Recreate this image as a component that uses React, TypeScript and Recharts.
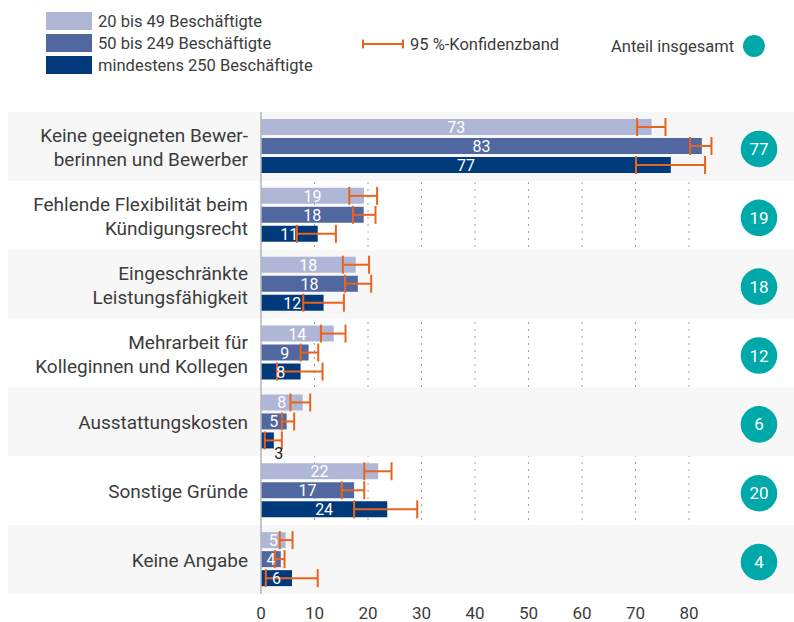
import React from "react";
import { Bar, CartesianGrid, ComposedChart, ErrorBar, LabelList, ReferenceArea, XAxis, YAxis } from "recharts";

const categories = [
  "Keine geeigneten Bewer-\nberinnen und Bewerber",
  "Fehlende Flexibilität beim\nKündigungsrecht",
  "Eingeschränkte\nLeistungsfähigkeit",
  "Mehrarbeit für\nKolleginnen und Kollegen",
  "Ausstattungskosten",
  "Sonstige Gründe",
  "Keine Angabe",
];

const seriesNames = ["20 bis 49 Beschäftigte", "50 bis 249 Beschäftigte", "mindestens 250 Beschäftigte"];

const small = [73.0, 19.25, 17.7, 13.6, 7.8, 21.9, 4.6];
const medium = [82.4, 19.2, 18.1, 8.9, 4.8, 17.4, 3.7];
const large = [76.6, 10.6, 11.7, 7.4, 2.4, 23.6, 5.8];
const smallLabels = [73, 19, 18, 14, 8, 22, 5];
const mediumLabels = [83, 18, 18, 9, 5, 17, 4];
const largeLabels = [77, 11, 12, 8, 3, 24, 6];

// 95 % confidence band, lower and upper ends
const smallLow = [70.3, 16.5, 15.3, 11.2, 5.5, 19.3, 3.5];
const smallHigh = [75.6, 21.7, 20.2, 15.8, 9.2, 24.4, 5.9];
const mediumLow = [80.2, 17.2, 15.7, 7.4, 3.9, 15.1, 2.6];
const mediumHigh = [84.2, 21.4, 20.6, 10.7, 6.2, 19.3, 4.4];
const largeLow = [70.1, 6.7, 7.9, 3.0, 0.7, 17.4, 0.9];
const largeHigh = [83.0, 14.0, 15.5, 11.5, 3.9, 29.2, 10.6];

const totals = [77, 19, 18, 12, 6, 20, 4];

const xTicks = [0, 10, 20, 30, 40, 50, 60, 70, 80];
const X_MAX = 90;

const COLORS = ["#b0b7d6", "#50679f", "#003a7a"];
const ORANGE = "#e8641e";
const TEAL = "#00a9a9";
const TEXT = "#3c3c3c";
const FONT = "Roboto, sans-serif";

const data = categories.map((cat, i) => ({
  cat,
  small: small[i],
  medium: medium[i],
  large: large[i],
  smallLabel: smallLabels[i],
  mediumLabel: mediumLabels[i],
  largeLabel: largeLabels[i],
  smallErr: [small[i] - smallLow[i], smallHigh[i] - small[i]],
  mediumErr: [medium[i] - mediumLow[i], mediumHigh[i] - medium[i]],
  largeErr: [large[i] - largeLow[i], largeHigh[i] - large[i]],
}));

function CategoryTick(props: any) {
  const { x, y, payload } = props;
  const lines = String(payload.value).split("\n");
  const offsets = lines.length > 1 ? [-4, 19.6] : [7.4];
  return (
    <text textAnchor="end" fill={TEXT} fontSize={19} fontFamily={FONT}>
      {lines.map((l, k) => (
        <tspan key={k} x={x} y={y + offsets[k]}>
          {l}
        </tspan>
      ))}
    </text>
  );
}

function TotalTick(props: any) {
  const { x, y, payload } = props;
  const cx = x + 16.5;
  const cy = y + 2.5;
  return (
    <g>
      <circle cx={cx} cy={cy} r={18.3} fill={TEAL} />
      <text x={cx} y={cy + 6} textAnchor="middle" fill="#fff" fontSize={17} fontFamily={FONT}>
        {totals[payload.index]}
      </text>
    </g>
  );
}

function BarValue(props: any) {
  const { x, y, width, height, value } = props;
  if (width < 16) {
    return (
      <text x={x + width + 5} y={y + height + 11} textAnchor="middle" fill="#222" fontSize={16} fontFamily={FONT}>
        {value}
      </text>
    );
  }
  return (
    <text x={x + width / 2} y={y + height / 2 + 6} textAnchor="middle" fill="#fff" fontSize={16} fontFamily={FONT}>
      {value}
    </text>
  );
}

function Band(props: any) {
  return <rect x={8} y={props.y} width={786} height={props.height} fill="#f7f7f7" />;
}

function Legend() {
  return (
    <div style={{ position: "absolute", left: 0, top: 0, width: 794, height: 90, fontFamily: FONT, color: TEXT, fontSize: 16.5 }}>
      {seriesNames.map((name, i) => (
        <div key={name} style={{ position: "absolute", left: 46, top: 12 + i * 22, display: "flex", alignItems: "center", height: 18 }}>
          <div style={{ width: 46, height: 18, background: COLORS[i], marginRight: 6 }} />
          <span>{name}</span>
        </div>
      ))}
      <div style={{ position: "absolute", left: 362, top: 34, display: "flex", alignItems: "center", height: 20 }}>
        <svg width={42} height={12} style={{ marginRight: 6 }}>
          <line x1={1} y1={6} x2={41} y2={6} stroke={ORANGE} strokeWidth={2} />
          <line x1={1} y1={1.5} x2={1} y2={10.5} stroke={ORANGE} strokeWidth={2} />
          <line x1={41} y1={1.5} x2={41} y2={10.5} stroke={ORANGE} strokeWidth={2} />
        </svg>
        <span>95 %-Konfidenzband</span>
      </div>
      <div style={{ position: "absolute", left: 611, top: 35, display: "flex", alignItems: "center", height: 22 }}>
        <span>Anteil insgesamt</span>
        <div style={{ width: 22, height: 22, borderRadius: 11, background: TEAL, marginLeft: 9 }} />
      </div>
    </div>
  );
}

// vertical dotted lines only at the labelled ticks (not at the plot's right edge)
const gridX = ({ offset }: any) =>
  xTicks.slice(1).map((t) => offset.left + (t / X_MAX) * offset.width);

export default function App() {
  return (
    <div style={{ position: "relative", width: 794, height: 622, background: "#fff" }}>
      <style>{`body{margin:0}`}</style>
      <Legend />
      <ComposedChart
        layout="vertical"
        width={794}
        height={622}
        data={data}
        margin={{ top: 112, right: 0, bottom: 0, left: 0 }}
        barSize={16}
        barGap={3}
      >
        {categories.map((cat, i) =>
          i % 2 === 0 ? (
            <ReferenceArea key={cat} y1={cat} y2={cat} ifOverflow="visible" shape={Band} />
          ) : null
        )}
        <CartesianGrid horizontal={false} stroke="#a0a0a0" strokeDasharray="2 5" verticalCoordinatesGenerator={gridX} />
        <XAxis
          type="number"
          domain={[0, X_MAX]}
          ticks={xTicks}
          axisLine={false}
          tickLine={false}
          height={28}
          tickMargin={7}
          tick={{ fill: TEXT, fontSize: 17, fontFamily: FONT }}
        />
        <YAxis
          type="category"
          dataKey="cat"
          width={261}
          axisLine={{ stroke: "#b5b5b5", strokeWidth: 1.5 }}
          tickLine={false}
          tickMargin={7}
          tick={<CategoryTick />}
          interval={0}
        />
        <YAxis
          yAxisId="right"
          type="category"
          dataKey="cat"
          orientation="right"
          width={51.5}
          axisLine={false}
          tickLine={false}
          tickSize={0}
          tickMargin={0}
          tick={<TotalTick />}
          interval={0}
        />
        <Bar dataKey="small" fill={COLORS[0]} isAnimationActive={false}>
          <ErrorBar dataKey="smallErr" direction="x" stroke={ORANGE} strokeWidth={2} width={9} />
          <LabelList dataKey="smallLabel" content={<BarValue />} />
        </Bar>
        <Bar dataKey="medium" fill={COLORS[1]} isAnimationActive={false}>
          <ErrorBar dataKey="mediumErr" direction="x" stroke={ORANGE} strokeWidth={2} width={9} />
          <LabelList dataKey="mediumLabel" content={<BarValue />} />
        </Bar>
        <Bar dataKey="large" fill={COLORS[2]} isAnimationActive={false}>
          <ErrorBar dataKey="largeErr" direction="x" stroke={ORANGE} strokeWidth={2} width={9} />
          <LabelList dataKey="largeLabel" content={<BarValue />} />
        </Bar>
      </ComposedChart>
    </div>
  );
}
